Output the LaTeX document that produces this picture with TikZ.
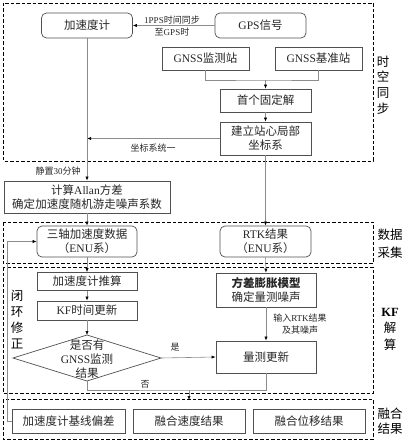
\documentclass[tikz,border=0pt]{standalone}
\usepackage{fontspec}
\setmainfont{Noto Sans CJK SC}
\newfontfamily\lat{Liberation Serif}
\usetikzlibrary{arrows.meta,calc}
\definecolor{boxc}{HTML}{505050}
\definecolor{linec}{HTML}{8C8C8C}
\definecolor{txt}{HTML}{262626}
\begin{document}
\begin{tikzpicture}[x=1pt,y=-1pt,
  box/.style={draw=boxc, line width=0.7pt, align=center, inner sep=0pt, text=txt, font=\fontsize{11.5}{14}\selectfont},
  rbox/.style={box, rounded corners=5pt},
  conn/.style={draw=linec, line width=0.6pt},
  arr/.style={conn, -{Latex[length=4pt,width=3.2pt,color=black]}},
  region/.style={draw=black, line width=0.8pt, dash pattern=on 3.5pt off 2pt},
  lab/.style={font=\fontsize{9}{12}\selectfont, text=txt, align=center, inner sep=0pt},
  side/.style={text=black, align=center, inner sep=0pt}
]
\useasboundingbox (0,0) rectangle (407,443);

% regions
\draw[region] (3,3) rectangle (373,161);
\draw[region] (3,222) rectangle (373,263);
\draw[region] (3,267) rectangle (373,393);
\draw[region] (3,399) rectangle (373,439);

% side labels
\node[side, font=\fontsize{12.5}{15.7}\selectfont] (s1) at (383,85) {时\\空\\同\\步};
\node[side, font=\fontsize{12.5}{18}\selectfont] (s2) at (390,244) {数据\\采集};
\node[side, font=\fontsize{12.5}{16.5}\selectfont] (s3) at (390,329) {{\lat\bfseries KF}\\解\\算};
\node[side, font=\fontsize{12.5}{15}\selectfont] (s4) at (390,421) {融合\\结果};
\node[side, font=\fontsize{12.5}{16}\selectfont] (s5) at (17,320) {闭\\环\\修\\正};

% nodes
\node[rbox, minimum width=91, minimum height=25] (acc) at (87,25.5) {加速度计};
\node[rbox, minimum width=91, minimum height=25] (gps) at (260.5,25.5) {{\lat GPS}信号};
\node[box, minimum width=87, minimum height=23] (mon) at (205.5,58.5) {{\lat GNSS}监测站};
\node[box, minimum width=87, minimum height=23] (ref) at (318.5,58.5) {{\lat GNSS}基准站};
\node[box, minimum width=91, minimum height=23] (fix) at (265.5,100.5) {首个固定解};
\node[box, minimum width=91, minimum height=33] (enu) at (265.5,138.5) {建立站心局部\\坐标系};
\node[box, minimum width=166, minimum height=32] (allan) at (87,197) {计算{\lat Allan}方差\\确定加速度随机游走噪声系数};
\node[rbox, minimum width=100, minimum height=31] (tri) at (87,241.5) {三轴加速度数据\\（{\lat ENU}系）};
\node[rbox, minimum width=91, minimum height=31] (rtk) at (265.5,241.5) {{\lat RTK}结果\\（{\lat ENU}系）};
\node[box, minimum width=100, minimum height=18] (pred) at (87,281.5) {加速度计推算};
\node[box, minimum width=100, minimum height=19] (kft) at (87,310.5) {{\lat KF}时间更新};
\node[box, minimum width=100, minimum height=34] (var) at (266,290) {{\bfseries 方差膨胀模型}\\确定量测噪声};
\node[box, minimum width=100, minimum height=32] (meas) at (266,357) {量测更新};
\node[box, minimum width=113, minimum height=24] (bias) at (68.5,421) {加速度计基线偏差};
\node[box, minimum width=112, minimum height=24] (vel) at (189,421) {融合速度结果};
\node[box, minimum width=112, minimum height=24] (disp) at (309,421) {融合位移结果};

% diamond
\coordinate (diaT) at (87,335);
\coordinate (diaB) at (87,381);
\coordinate (diaL) at (13,358);
\coordinate (diaR) at (161,358);
\draw[draw=boxc, line width=0.7pt] (diaT) -- (diaR) -- (diaB) -- (diaL) -- cycle;
\node[align=center, inner sep=0pt, text=txt, font=\fontsize{11.5}{14}\selectfont] (dia) at (87,359) {是否有\\{\lat GNSS}监测\\结果};

% connectors
\draw[arr] (gps.west) -- (acc.east);
\node[lab] (l1) at (172,26.5) {{\lat 1PPS}时间同步\\至{\lat GPS}时};

\coordinate (j1) at (265.5,80);
\draw[conn] (mon.south) |- (j1) -| (ref.south);
\draw[arr] (j1) -- (fix.north);
\draw[arr] (fix.south) -- (enu.north);
\coordinate (j2) at (acc.south |- enu.west);
\draw[arr] (enu.west) -- (j2);
\node[lab] (l2) at (153,148) {坐标系统一};
\draw[arr] (acc.south) -- (allan.north);
\node[lab] (l3) at (58,171) {静置{\lat 30}分钟};

\draw[arr] (enu.south) -- (rtk.north);
\draw[arr] (allan.south) -- (tri.north);
\draw[arr] (tri.south) -- (pred.north);
\draw[arr] (pred.south) -- (kft.north);
\draw[arr] (kft.south) -- (diaT);
\draw[arr] (rtk.south) -- (var.north);
\draw[arr] (var.south) -- (meas.north);
\node[lab] (l4) at (300,324) {输入{\lat RTK}结果\\及其噪声};
\draw[arr] (diaR) -- (meas.west);
\node[lab] (l5) at (175,347) {是};

\coordinate (j3) at (189,390);
\coordinate (j4) at (189,400);
\draw[conn] (diaB) |- (j3) -| (meas.south);
\draw[arr] (j3) -- (j4);
\node[lab] (l6) at (145,384) {否};

\coordinate (f1) at (7,421);
\coordinate (f2) at (7,241.5);
\draw[arr] (bias.west) -- (f1) -- (f2) -- (tri.west);
\end{tikzpicture}
\end{document}
